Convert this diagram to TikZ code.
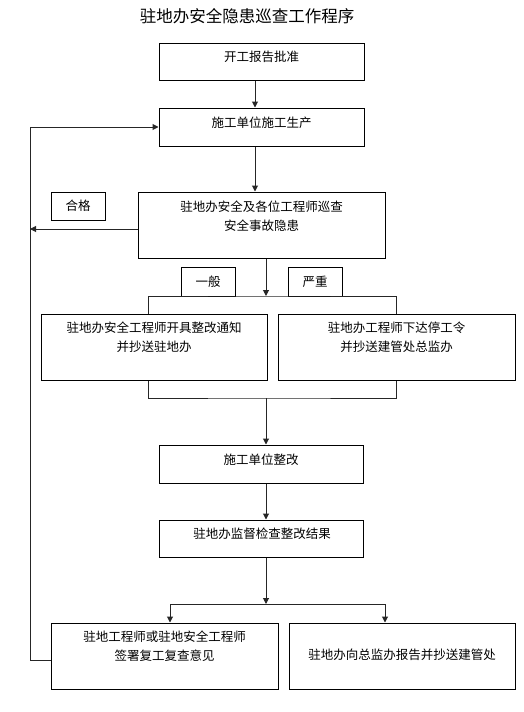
\documentclass[tikz,border=0pt]{standalone}
\usepackage{fontspec}
\setmainfont{Noto Sans CJK SC}
\usetikzlibrary{
	arrows.meta,
	positioning
}

\begin{document}
\begin{tikzpicture}
[x=1pt,y=-1pt,
box/.style={rectangle,draw=black,line width=1pt,inner sep=0pt},
tag/.style={rectangle,draw=black,line width=1pt,inner sep=0pt,minimum width=54pt,minimum height=28pt,font=\fontsize{12.5}{19}\selectfont},
word/.style={font=\fontsize{12.5}{19}\selectfont,align=center,inner sep=0pt},
wire/.style={draw=black!85,line width=1pt},
arr/.style={wire,-{Triangle[length=6pt,width=6pt]}}]
\useasboundingbox (0,0) rectangle (524,712);
\node at (247,16) [word,font=\fontsize{16.5}{20}\selectfont] (title) {驻地办安全隐患巡查工作程序};
% boxes
\node at (261.5,61.5) [box,minimum width=205pt,minimum height=37pt] (report) {};
\node at (261.5,57) [word] (reportT) {开工报告批准};
\node at (261.5,127) [box,minimum width=205pt,minimum height=38pt] (build) {};
\node at (261.5,123) [word] (buildT) {施工单位施工生产};
\node at (261.5,225) [box,minimum width=247pt,minimum height=66pt] (patrol) {};
\node at (261.5,216) [word] (patrolT) {驻地办安全及各位工程师巡查\\安全事故隐患};
\node at (78,206) [tag] (pass) {合格};
\node at (208,281.5) [tag,minimum height=29pt] (minor) {一般};
\node at (315,281.5) [tag,minimum height=29pt] (major) {严重};
\node at (154,347) [box,minimum width=226pt,minimum height=66pt] (notice) {};
\node at (154,337.5) [word] (noticeT) {驻地办安全工程师开具整改通知\\并抄送驻地办};
\node at (396.5,347) [box,minimum width=237pt,minimum height=66pt] (stop) {};
\node at (396.5,337.5) [word] (stopT) {驻地办工程师下达停工令\\并抄送建管处总监办};
\node at (261,464) [box,minimum width=204pt,minimum height=38pt] (rectify) {};
\node at (261,460) [word] (rectifyT) {施工单位整改};
\node at (261,538.5) [box,minimum width=204pt,minimum height=37pt] (check) {};
\node at (262,534) [word] (checkT) {驻地办监督检查整改结果};
\node at (164.5,656) [box,minimum width=227pt,minimum height=66pt] (sign) {};
\node at (164.5,646.5) [word] (signT) {驻地工程师或驻地安全工程师\\签署复工复查意见};
\node at (402,656) [box,minimum width=226pt,minimum height=66pt] (inform) {};
\node at (402,655) [word] (informT) {驻地办向总监办报告并抄送建管处};
% junctions
\coordinate (split) at (266,296);
\coordinate (join) at (266,398);
\coordinate (fork) at (266,604);
\coordinate (back) at (30,660);
% connectors
\draw[arr] ([xshift=-6.5pt]report.south) -- ([xshift=-6.5pt]build.north);
\draw[arr] ([xshift=-6.5pt]build.south) -- ([xshift=-6.5pt]patrol.north);
\draw[arr] ([yshift=-4pt]patrol.west) -- ([yshift=-4pt]patrol.west -| back);
\draw[arr] ([xshift=4.5pt]patrol.south) -- (split);
\draw[wire] ([xshift=-6pt]notice.north) |- (split) -| ([xshift=-0.5pt]stop.north);
\draw[wire] ([xshift=-6pt]notice.south) |- (join) -| ([xshift=-0.5pt]stop.south);
\draw[arr] (join) -- ([xshift=5pt]rectify.north);
\draw[arr] ([xshift=5pt]rectify.south) -- ([xshift=5pt]check.north);
\draw[arr] ([xshift=5pt]check.south) -- (fork);
\draw[arr] (fork) -| ([xshift=5.5pt]sign.north);
\draw[arr] (fork) -| ([xshift=-17pt]inform.north);
\draw[arr] ([yshift=-4pt]sign.west) -- (back) |- (build.west);
\end{tikzpicture}
\end{document}
